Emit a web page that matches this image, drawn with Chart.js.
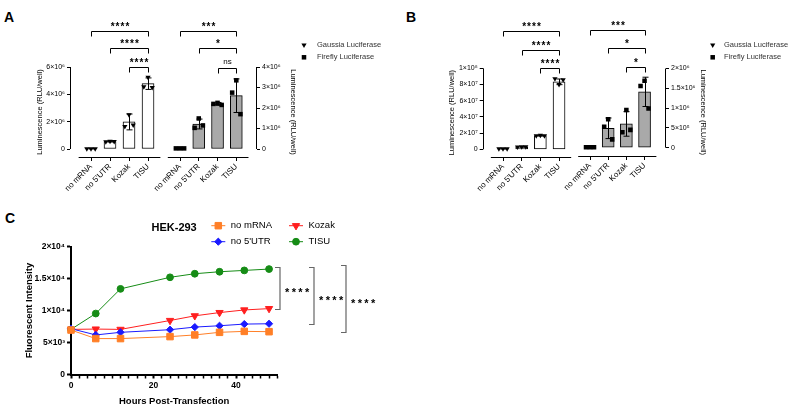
<!DOCTYPE html>
<html>
<head>
<meta charset="utf-8">
<script src="https://cdn.jsdelivr.net/npm/chart.js@4.4.1/dist/chart.umd.min.js"></script>
<style>
  body { margin: 0; background: #fff; font-family: "Liberation Sans", Arial, sans-serif; }
  #page { position: relative; width: 794px; height: 408px; overflow: hidden; background: #fff; }
  canvas { position: absolute; }
  .panel { position: absolute; font-weight: bold; font-size: 14px; line-height: 14px; color: #000; }
</style>
</head>
<body>
<div id="page">
  <div class="panel" style="left:4px;top:10px">A</div>
  <div class="panel" style="left:406px;top:10px">B</div>
  <div class="panel" style="left:5px;top:211px">C</div>

  <canvas id="gA" width="200" height="200" style="left:0;top:0"></canvas>
  <canvas id="fA" width="250" height="200" style="left:150px;top:0"></canvas>
  <canvas id="gB" width="200" height="200" style="left:400px;top:0"></canvas>
  <canvas id="fB" width="234" height="200" style="left:560px;top:0"></canvas>
  <canvas id="cC" width="400" height="208" style="left:0;top:200px"></canvas>
</div>
<script>
const categories = ["no mRNA", "no 5'UTR", "Kozak", "TISU"];
const legendLabels = ["Gaussia Luciferase", "Firefly Luciferase"];

// panel A
const gaussiaA = [0.02e6, 0.55e6, 1.98e6, 4.78e6];
const gaussiaASD = [0.01e6, 0.03e6, 0.58e6, 0.42e6];
const gaussiaAPts = [
  [0.02e6, 0.02e6, 0.02e6],
  [0.53e6, 0.57e6, 0.55e6],
  [1.65e6, 2.5e6, 1.75e6],
  [4.55e6, 5.25e6, 4.5e6]
];
const fireflyA = [0.03e6, 1.22e6, 2.2e6, 2.6e6];
const fireflyASD = [0.01e6, 0.24e6, 0.07e6, 0.82e6];
const fireflyAPts = [
  [0.03e6, 0.03e6, 0.03e6],
  [1.03e6, 1.49e6, 1.15e6],
  [2.2e6, 2.25e6, 2.15e6],
  [2.75e6, 3.35e6, 1.7e6]
];
const gaussiaATicks = [0, 2e6, 4e6, 6e6];
const gaussiaATickLabels = ["0", "2×10⁶", "4×10⁶", "6×10⁶"];
const fireflyATicks = [0, 1e6, 2e6, 3e6, 4e6];
const fireflyATickLabels = ["0", "1×10⁶", "2×10⁶", "3×10⁶", "4×10⁶"];
const gaussiaASig = [[0, 3, "****"], [1, 3, "****"], [2, 3, "****"]];
const fireflyASig = [[0, 3, "***"], [1, 3, "*"], [2, 3, "ns"]];

// panel B
const gaussiaB = [0.6e6, 3.0e6, 16.9e6, 83.3e6];
const gaussiaBSD = [0.1e6, 0.2e6, 0.4e6, 3.5e6];
const gaussiaBPts = [
  [0.6e6, 0.6e6, 0.6e6],
  [2.9e6, 3.1e6, 3.0e6],
  [16.7e6, 17.2e6, 16.8e6],
  [87e6, 80e6, 86e6]
];
const fireflyB = [0.01e6, 0.49e6, 0.6e6, 1.41e6];
const fireflyBSD = [0.005e6, 0.26e6, 0.31e6, 0.37e6];
const fireflyBPts = [
  [0.01e6, 0.01e6, 0.01e6],
  [0.53e6, 0.72e6, 0.21e6],
  [0.39e6, 0.95e6, 0.45e6],
  [1.56e6, 1.69e6, 0.99e6]
];
const gaussiaBTicks = [0, 2e7, 4e7, 6e7, 8e7, 1e8];
const gaussiaBTickLabels = ["0", "2×10⁷", "4×10⁷", "6×10⁷", "8×10⁷", "1×10⁸"];
const fireflyBTicks = [0, 5e5, 1e6, 1.5e6, 2e6];
const fireflyBTickLabels = ["0", "5×10⁵", "1×10⁶", "1.5×10⁶", "2×10⁶"];
const gaussiaBSig = [[0, 3, "****"], [1, 3, "****"], [2, 3, "****"]];
const fireflyBSig = [[0, 3, "***"], [1, 3, "*"], [2, 3, "*"]];

// panel C
const hours = [0, 6, 12, 24, 30, 36, 42, 48];
const noMRNA = [6960, 5620, 5620, 5930, 6190, 6600, 6750, 6700];
const no5UTR = [7170, 6190, 6600, 7010, 7420, 7630, 7890, 7940];
const kozak = [7060, 7110, 7060, 8450, 9180, 9690, 10100, 10310];
const tisu = [7060, 9540, 13400, 15210, 15770, 16080, 16290, 16500];
const cYTicks = [0, 5000, 10000, 15000, 20000];
const cYTickLabels = ["0", "5×10³", "1×10⁴", "1.5×10⁴", "2×10⁴"];
const cXLabels = [0, 20, 40];
const cSig = ["****", "****", "****"];

const FONT = '"Liberation Sans", Arial, sans-serif';
Chart.defaults.font.family = FONT;
Chart.defaults.color = "#000";

const jitter = [-0.22, 0, 0.22];

function marker(ctx, style, x, y) {
  ctx.fillStyle = "#000";
  Chart.helpers.drawPoint(ctx, {
    pointStyle: style, rotation: style === "triangle" ? 180 : 0,
    radius: style === "triangle" ? 3 : 3.2, borderWidth: 0
  }, x, y);
}

function makeBar(id, c) {
  const decor = {
    id: "decor",
    afterDatasetDraw(chart, args) {
      if (args.index !== 0) return;
      const ctx = chart.ctx, x = chart.scales.x, y = chart.scales.y;
      ctx.save();
      ctx.strokeStyle = "#000";
      ctx.lineWidth = 1;
      c.means.forEach((m, i) => {
        const px = Math.round(x.getPixelForValue(i)) + 0.5;
        const top = y.getPixelForValue(m + c.sd[i]);
        const bot = y.getPixelForValue(Math.max(m - c.sd[i], 0));
        ctx.beginPath();
        ctx.moveTo(px, top); ctx.lineTo(px, bot);
        ctx.moveTo(px - 3, top); ctx.lineTo(px + 3, top);
        ctx.moveTo(px - 3, bot); ctx.lineTo(px + 3, bot);
        ctx.stroke();
      });
      ctx.restore();
    },
    afterDraw(chart) {
      const ctx = chart.ctx, area = chart.chartArea, x = chart.scales.x, y = chart.scales.y;
      ctx.save();
      ctx.strokeStyle = "#000";
      ctx.lineWidth = 1;
      // detached axes, prism style
      const ax = c.side === "left" ? Math.round(area.left) + 0.5 : Math.round(area.right) - 0.5;
      const by = Math.round(area.bottom) + 0.5;
      ctx.beginPath();
      ctx.moveTo(ax, y.getPixelForValue(y.max));
      ctx.lineTo(ax, y.getPixelForValue(0));
      ctx.moveTo(x.getPixelForValue(-0.65), by);
      ctx.lineTo(x.getPixelForValue(3.65), by);
      ctx.stroke();
      // significance brackets
      ctx.fillStyle = "#000";
      ctx.textAlign = "center";
      ctx.textBaseline = "alphabetic";
      c.sig.forEach(([a, b, t], k) => {
        const yy = Math.round(c.bracketY[k]) + 0.5;
        const xa = Math.round(x.getPixelForValue(a)) + 0.5;
        const xb = Math.round(x.getPixelForValue(b)) + 0.5;
        ctx.beginPath();
        ctx.moveTo(xa, yy + 5); ctx.lineTo(xa, yy); ctx.lineTo(xb, yy); ctx.lineTo(xb, yy + 5);
        ctx.stroke();
        const ns = t === "ns";
        ctx.font = ns ? "8px " + FONT : "bold 10px " + FONT;
        ctx.letterSpacing = ns ? "0px" : "1px";
        ctx.fillText(t, (xa + xb) / 2 + (ns ? 0 : 0.5), ns ? yy - 4.5 : yy - 2);
      });
      // legend
      if (c.legend) {
        ctx.letterSpacing = "0px";
        ctx.textAlign = "left";
        ctx.textBaseline = "middle";
        ctx.font = "7.5px " + FONT;
        ["triangle", "rect"].forEach((st, k) => {
          const ly = c.legend.y[k];
          marker(ctx, st, c.legend.mx, ly);
          ctx.fillStyle = "#333";
          ctx.fillText(legendLabels[k], c.legend.tx, ly);
        });
      }
      ctx.restore();
    }
  };

  return new Chart(document.getElementById(id), {
    type: "bar",
    data: {
      datasets: [
        {
          type: "bar",
          data: c.means.map((v, i) => ({ x: i, y: v })),
          backgroundColor: c.fill,
          borderColor: "#000",
          borderWidth: 1,
          borderSkipped: false,
          barThickness: 12,
          order: 2
        },
        {
          type: "scatter",
          data: c.pts.flatMap((r, i) => r.map((v, k) => ({ x: i + jitter[k], y: v }))),
          pointStyle: c.marker,
          pointRotation: c.marker === "triangle" ? 180 : 0,
          pointRadius: c.marker === "triangle" ? 3 : 3.2,
          pointBackgroundColor: "#000",
          pointBorderColor: "#000",
          pointBorderWidth: 0,
          order: 1
        }
      ]
    },
    options: {
      responsive: false,
      animation: false,
      layout: { padding: c.pad },
      plugins: { legend: { display: false }, tooltip: { enabled: false } },
      scales: {
        x: {
          type: "linear",
          min: c.xMin,
          max: c.xMax,
          offset: false,
          afterBuildTicks: s => { s.ticks = categories.map((_, i) => ({ value: i })); },
          afterFit: s => { s.height = 40; },
          border: { display: false },
          grid: { drawOnChartArea: false, drawTicks: true, tickLength: 4, color: "#000", offset: false },
          ticks: {
            autoSkip: false, minRotation: 45, maxRotation: 45, padding: 1,
            font: { size: 8 }, color: "#000",
            callback: v => categories[v]
          }
        },
        y: {
          type: "linear",
          position: c.side,
          min: c.yMin,
          max: c.yMax,
          afterBuildTicks: s => { s.ticks = c.ticks.map(v => ({ value: v })); },
          afterFit: s => { s.width = c.yWidth; },
          border: { display: false },
          grid: { drawOnChartArea: false, drawTicks: true, tickLength: 3, color: "#000" },
          ticks: { font: { size: 7 }, color: "#000", padding: 2, callback: (v, i) => c.tickLabels[i] },
          title: {
            display: true, text: "Luminescence (RLU/well)", font: { size: 7.5 }, color: "#000",
            padding: { top: 4, bottom: 4 }
          }
        }
      }
    },
    plugins: [decor]
  });
}

makeBar("gA", {
  means: gaussiaA, sd: gaussiaASD, pts: gaussiaAPts, ticks: gaussiaATicks, tickLabels: gaussiaATickLabels,
  sig: gaussiaASig, side: "left", fill: "#ffffff", marker: "triangle",
  yMin: -0.585e6, yMax: 6e6, xMin: -1.105, xMax: 3.63,
  pad: { left: 31, top: 67, right: 40, bottom: 3 }, yWidth: 39, bracketY: [31, 48, 66.7]
});
makeBar("fA", {
  means: fireflyA, sd: fireflyASD, pts: fireflyAPts, ticks: fireflyATicks, tickLabels: fireflyATickLabels,
  sig: fireflyASig, side: "right", fill: "#a9a9a9", marker: "rect",
  yMin: -0.39e6, yMax: 4e6, xMin: -1.066, xMax: 4.103,
  pad: { left: 10, top: 67, right: 98.2, bottom: 3 }, yWidth: 44.8, bracketY: [31, 47.7, 68.3],
  legend: { mx: 154, tx: 167, y: [45, 57.3] }
});
makeBar("gB", {
  means: gaussiaB, sd: gaussiaBSD, pts: gaussiaBPts, ticks: gaussiaBTicks, tickLabels: gaussiaBTickLabels,
  sig: gaussiaBSig, side: "left", fill: "#ffffff", marker: "triangle",
  yMin: -0.095e8, yMax: 1e8, xMin: -1.087, xMax: 3.64,
  pad: { left: 43.2, top: 68.3, right: 29, bottom: 3 }, yWidth: 39.5, bracketY: [31, 50, 68.3]
});
makeBar("fB", {
  means: fireflyB, sd: fireflyBSD, pts: fireflyBPts, ticks: fireflyBTicks, tickLabels: fireflyBTickLabels,
  sig: fireflyBSig, side: "right", fill: "#a9a9a9", marker: "rect",
  yMin: -0.21e6, yMax: 2e6, xMin: -0.826, xMax: 4.18,
  pad: { left: 15, top: 68.5, right: 82.2, bottom: 4 }, yWidth: 45.8, bracketY: [30, 47.7, 66.7],
  legend: { mx: 152.7, tx: 164, y: [45, 57.3] }
});

// panel C: time course
function series(label, vals, color, style, r, rot) {
  return {
    label: label,
    data: vals.map((v, i) => ({ x: hours[i], y: v })),
    borderColor: color,
    backgroundColor: color,
    borderWidth: 1,
    pointStyle: style,
    pointRadius: r,
    pointRotation: rot,
    pointBorderWidth: 1,
    tension: 0,
    clip: false
  };
}

const legendSpots = [[0, 218.3, 25.7], [2, 296, 25.7], [1, 218.3, 41.7], [3, 296, 41.7]];

const cDecor = {
  id: "cDecor",
  afterDraw(chart) {
    const ctx = chart.ctx, y = chart.scales.y;
    ctx.save();
    ctx.fillStyle = "#000";
    ctx.textAlign = "left";
    ctx.textBaseline = "middle";
    ctx.font = "bold 11px " + FONT;
    ctx.fillText("HEK-293", 151.5, 28);

    ctx.font = "9.5px " + FONT;
    legendSpots.forEach(([di, cx, cy]) => {
      const ds = chart.data.datasets[di];
      ctx.strokeStyle = ds.borderColor;
      ctx.fillStyle = ds.backgroundColor;
      ctx.lineWidth = 1;
      ctx.beginPath();
      ctx.moveTo(cx - 7, cy); ctx.lineTo(cx + 7, cy);
      ctx.stroke();
      Chart.helpers.drawPoint(ctx, { pointStyle: ds.pointStyle, rotation: ds.pointRotation, radius: ds.pointRadius, borderWidth: 1 }, cx, cy);
      ctx.fillStyle = "#000";
      ctx.fillText(ds.label, cx + 12.5, cy);
    });

    const last = hours.length - 1;
    const yTop = y.getPixelForValue(tisu[last]);
    [[kozak, 280, 2.5], [no5UTR, 314, 2.5], [noMRNA, 346, 4]].forEach(([s, bx, lift], k) => {
      const t = Math.round(yTop - lift) + 0.5;
      const b = Math.round(y.getPixelForValue(s[last])) + 0.5;
      ctx.strokeStyle = "#666";
      ctx.lineWidth = 1.2;
      ctx.beginPath();
      ctx.moveTo(bx - 5, t); ctx.lineTo(bx, t); ctx.lineTo(bx, b); ctx.lineTo(bx - 5, b);
      ctx.stroke();
      ctx.fillStyle = "#000";
      ctx.font = "bold 11px " + FONT;
      ctx.letterSpacing = "2.4px";
      ctx.textBaseline = "alphabetic";
      ctx.fillText(cSig[k], bx + 5, (t + b) / 2 + 7.8);
    });
    ctx.restore();
  }
};

new Chart(document.getElementById("cC"), {
  type: "line",
  data: {
    datasets: [
      series("no mRNA", noMRNA, "#ff7f27", "rect", 4.6, 0),
      series("no 5'UTR", no5UTR, "#1a1aff", "rectRot", 3.6, 0),
      series("Kozak", kozak, "#ff1f1f", "triangle", 4.2, 180),
      series("TISU", tisu, "#168c16", "circle", 3.4, 0)
    ]
  },
  options: {
    responsive: false,
    animation: false,
    layout: { padding: { left: 20, top: 46.7, right: 122.7, bottom: 0 } },
    plugins: { legend: { display: false }, tooltip: { enabled: false } },
    scales: {
      x: {
        type: "linear",
        min: 0,
        max: 50,
        afterBuildTicks: s => {
          const t = [];
          for (let h = 0; h <= 50; h += 2) t.push({ value: h });
          s.ticks = t;
        },
        afterFit: s => { s.height = 33.5; },
        border: { display: true, width: 2, color: "#000" },
        grid: {
          drawOnChartArea: false, drawTicks: true, tickLength: 4, color: "#000",
          tickWidth: ctx => (ctx.tick && cXLabels.includes(ctx.tick.value) ? 2 : 1.5)
        },
        ticks: {
          autoSkip: false, maxRotation: 0, padding: 2, color: "#000",
          font: { size: 8.5, weight: "bold" },
          callback: v => (cXLabels.includes(v) ? String(v) : "")
        },
        title: {
          display: true, text: "Hours Post-Transfection", color: "#000",
          font: { size: 9.5, weight: "bold" }, padding: { top: 0, bottom: 1 }
        }
      },
      y: {
        type: "linear",
        min: 0,
        max: 20000,
        afterBuildTicks: s => { s.ticks = cYTicks.map(v => ({ value: v })); },
        afterFit: s => { s.width = 51; },
        border: { display: true, width: 2, color: "#000" },
        grid: { drawOnChartArea: false, drawTicks: true, tickLength: 4, tickWidth: 2, color: "#000" },
        ticks: {
          padding: 2, color: "#000", font: { size: 8.5, weight: "bold" },
          callback: (v, i) => cYTickLabels[i]
        },
        title: {
          display: true, text: "Fluorescent Intensity", color: "#000",
          font: { size: 9.5, weight: "bold" }, padding: { top: 4, bottom: 0 }
        }
      }
    }
  },
  plugins: [cDecor]
});
</script>
</body>
</html>
